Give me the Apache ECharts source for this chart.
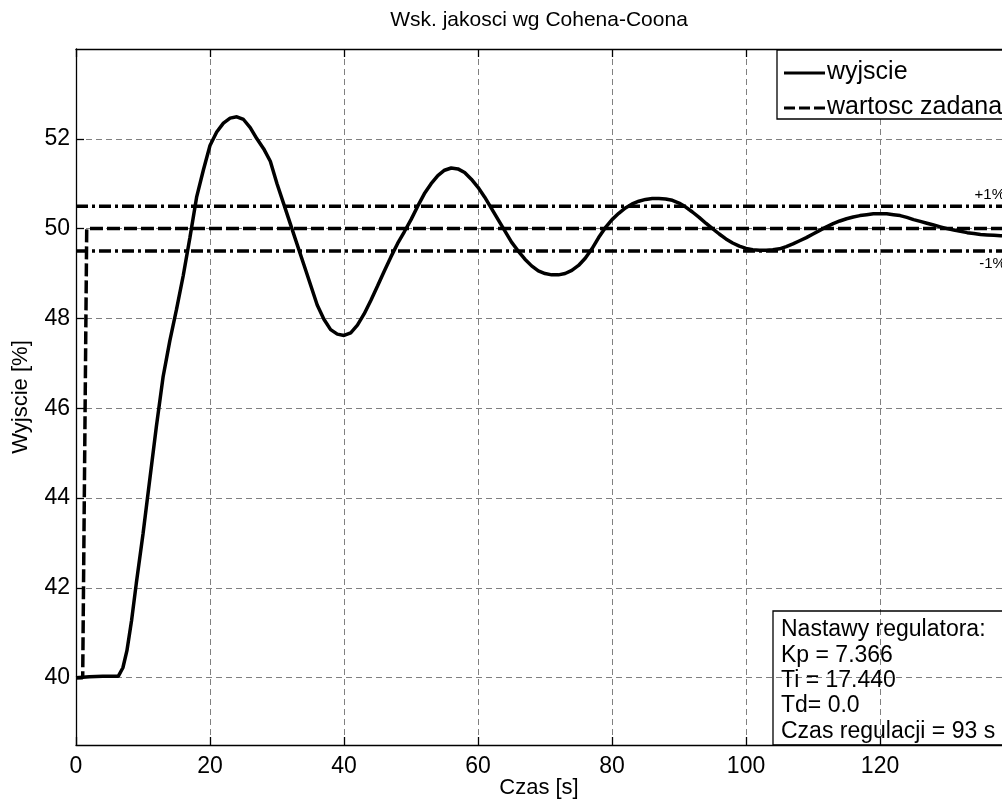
<!DOCTYPE html>
<html><head><meta charset="utf-8">
<script src="https://cdn.jsdelivr.net/npm/echarts@6/dist/echarts.min.js"></script>
<style>html,body{margin:0;padding:0;background:#fff}#c{width:1002px;height:803px}</style>
</head><body><div id="c"></div>
<script>
// ---- data ----
const time = [0,1,2,4,6.3,7,7.6,8.3,9,10,11,12,13,13.5,14,15,16,17,18,19,20,21,22,23,24,25,26,27,28,29,30,31,32,33,34,35,36,37,38,39,40,41,42,43,44,45,46,47,48,49,50,51,52,53,54,55,56,57,58,59,60,61,62,63,64,65,66,67,68,69,70,71,72,73,74,75,76,77,78,79,80,81,82,83,84,85,86,87,88,89,90,91,92,93,94,95,96,97,98,99,100,101,102,103,104,105,106,107,108,109,110,111,112,113,114,115,116,117,118,119,120,121,122,123,124,125,126,127,128,129,130,131,132,133,134,135,136,137,138,139,140];
const output = [40.00,40.01,40.02,40.03,40.03,40.22,40.6,41.28,42.1,43.2,44.4,45.6,46.7,47.1,47.5,48.2,48.95,49.8,50.7,51.3,51.85,52.15,52.35,52.46,52.49,52.43,52.25,52.0,51.78,51.5,51.0,50.55,50.1,49.65,49.2,48.75,48.3,47.98,47.75,47.65,47.62,47.68,47.85,48.1,48.4,48.72,49.05,49.37,49.67,49.93,50.2,50.5,50.78,51.0,51.18,51.3,51.35,51.33,51.25,51.1,50.92,50.7,50.45,50.2,49.95,49.7,49.5,49.32,49.17,49.06,49.0,48.97,48.97,49.0,49.07,49.18,49.34,49.55,49.8,50.02,50.2,50.34,50.46,50.55,50.61,50.65,50.67,50.67,50.66,50.63,50.57,50.48,50.37,50.25,50.12,50.0,49.88,49.77,49.68,49.61,49.56,49.53,49.52,49.52,49.53,49.55,49.6,49.66,49.73,49.8,49.88,49.96,50.04,50.11,50.17,50.22,50.26,50.29,50.31,50.33,50.33,50.33,50.31,50.29,50.25,50.2,50.16,50.12,50.08,50.04,50.0,49.97,49.94,49.91,49.89,49.87,49.86,49.85,49.84,49.84,49.84];
const setTime = [0, 1, 1.6, 140];
const setValue = [40, 40, 50, 50];
const bandTime = [0, 140];
const upperBand = [50.5, 50.5];
const lowerBand = [49.5, 49.5];
const xTicks = [0, 20, 40, 60, 80, 100, 120];
const yTicks = [40, 42, 44, 46, 48, 50, 52];
const legendNames = ['wyjscie', 'wartosc zadana'];
const infoLines = ['Nastawy regulatora:', 'Kp = 7.366', 'Ti = 17.440', 'Td= 0.0', 'Czas regulacji = 93 s'];
const titleText = 'Wsk. jakosci wg Cohena-Coona';
const bandLabels = ['+1%', '-1%'];

// ---- chart ----
const FONT = "'Liberation Sans', Arial, sans-serif";
const zip = (a, b) => a.map((v, i) => [v, b[i]]);
const chart = echarts.init(document.getElementById('c'), null, {renderer: 'canvas'});
const gridLine = {show: true, lineStyle: {color: '#808080', width: 1, type: [6, 4]}};
const dashDot = [12, 4, 3, 4];

const graphic = [
  {type: 'text', x: 539, y: 20, style: {text: titleText, font: '21px ' + FONT, fill: '#000', align: 'center', verticalAlign: 'middle'}, z: 100},
  // legend
  {type: 'rect', shape: {x: 777, y: 50, width: 260, height: 69}, style: {fill: '#fff', stroke: '#000', lineWidth: 1.3}, z: 100},
  {type: 'line', shape: {x1: 784, y1: 73, x2: 825, y2: 73}, style: {stroke: '#000', lineWidth: 3}, z: 101},
  {type: 'text', x: 827, y: 72, style: {text: legendNames[0], font: '25px ' + FONT, fill: '#000', verticalAlign: 'middle'}, z: 101},
  {type: 'line', shape: {x1: 784, y1: 108, x2: 825, y2: 108}, style: {stroke: '#000', lineWidth: 3, lineDash: [11, 4]}, z: 101},
  {type: 'text', x: 827, y: 107, style: {text: legendNames[1], font: '25px ' + FONT, fill: '#000', verticalAlign: 'middle'}, z: 101},
  // info box
  {type: 'rect', shape: {x: 773, y: 611, width: 260, height: 134}, style: {fill: 'none', stroke: '#000', lineWidth: 1.3}, z: 100}
];
infoLines.forEach((t, i) => {
  graphic.push({type: 'text', x: 781, y: 630 + i * 25.3, style: {text: t, font: '23px ' + FONT, fill: '#000', verticalAlign: 'middle'}, z: 101});
});

chart.setOption({
  animation: false,
  backgroundColor: '#fff',
  grid: {left: 76, right: 0, top: 49, bottom: 58, containLabel: false, outerBoundsMode: 'none'},
  xAxis: [{
    type: 'value', min: 0, max: 138.2,
    name: 'Czas [s]', nameLocation: 'middle', nameGap: 32, nameMoveOverlap: false,
    nameTextStyle: {fontFamily: FONT, fontSize: 22, color: '#000'},
    axisLine: {show: true, onZero: false, lineStyle: {color: '#000', width: 1.3}},
    axisTick: {show: true, inside: true, length: 8, customValues: xTicks, lineStyle: {color: '#000', width: 1.3}},
    axisLabel: {fontFamily: FONT, fontSize: 23, color: '#000', margin: 10, customValues: xTicks},
    splitLine: gridLine
  }, {
    type: 'value', min: 0, max: 138.2, position: 'top',
    axisLine: {show: true, onZero: false, lineStyle: {color: '#000', width: 1.3}},
    axisTick: {show: true, inside: true, length: 8, customValues: xTicks, lineStyle: {color: '#000', width: 1.3}},
    axisLabel: {show: false}, splitLine: {show: false}
  }],
  yAxis: [{
    type: 'value', min: 38.5, max: 54,
    name: 'Wyjscie [%]', nameLocation: 'middle', nameGap: 44, nameMoveOverlap: false,
    nameTextStyle: {fontFamily: FONT, fontSize: 22, color: '#000'},
    axisLine: {show: true, onZero: false, lineStyle: {color: '#000', width: 1.3}},
    axisTick: {show: true, inside: true, length: 8, customValues: yTicks, lineStyle: {color: '#000', width: 1.3}},
    axisLabel: {fontFamily: FONT, fontSize: 23, color: '#000', margin: 6, customValues: yTicks},
    splitLine: gridLine
  }],
  series: [
    {name: 'upper', type: 'line', data: zip(bandTime, upperBand), symbol: 'none', silent: true,
     lineStyle: {color: '#000', width: 3.5, type: dashDot}, z: 3,
     markPoint: {symbol: 'rect', symbolSize: 0, silent: true, data: [{coord: [134.1, 50.5]}],
       label: {show: true, formatter: bandLabels[0], position: 'top', distance: 4, align: 'left', fontFamily: FONT, fontSize: 15, color: '#000'}}},
    {name: 'lower', type: 'line', data: zip(bandTime, lowerBand), symbol: 'none', silent: true,
     lineStyle: {color: '#000', width: 3.5, type: dashDot}, z: 3,
     markPoint: {symbol: 'rect', symbolSize: 0, silent: true, data: [{coord: [134.8, 49.5]}],
       label: {show: true, formatter: bandLabels[1], position: 'bottom', distance: 5, align: 'left', fontFamily: FONT, fontSize: 15, color: '#000'}}},
    {name: legendNames[1], type: 'line', data: zip(setTime, setValue), symbol: 'none',
     lineStyle: {color: '#000', width: 3.5, type: [13, 4]}, z: 4},
    {name: legendNames[0], type: 'line', data: zip(time, output), symbol: 'none',
     lineStyle: {color: '#000', width: 3.5}, z: 5}
  ],
  graphic: graphic
});
</script></body></html>
